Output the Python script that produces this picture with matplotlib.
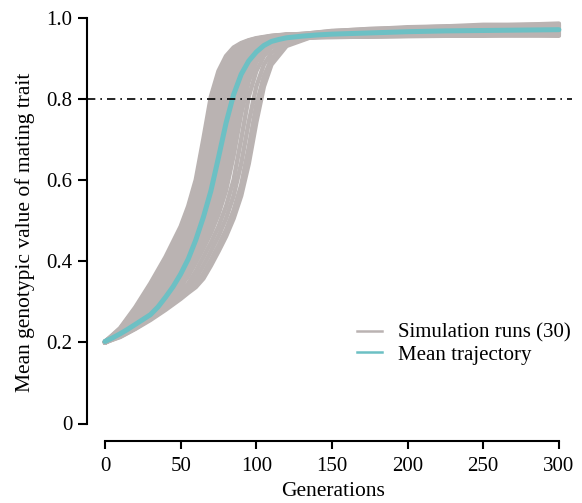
import matplotlib
matplotlib.use("Agg")
import matplotlib.pyplot as plt
from matplotlib.lines import Line2D

plt.rcParams['font.family'] = ['Liberation Serif', 'DejaVu Serif']

# ---------------- data ----------------
generations = [0, 10, 20, 30, 40, 50, 55, 60, 65, 70, 75, 80, 85, 90, 95, 100,
               105, 110, 120, 135, 150, 175, 200, 225, 250, 275, 300]

run_01 = [.201, .235, .286, .345, .410, .485, .535, .600, .700, .805, .868, .905, .926, .937, .944, .949, .952, .955, .958, .959, .963, .969, .971, .975, .975, .978, .979]
run_02 = [.200, .233, .282, .339, .403, .477, .525, .587, .680, .784, .855, .898, .922, .935, .943, .948, .951, .954, .958, .955, .956, .957, .961, .962, .964, .962, .964]
run_03 = [.202, .232, .279, .333, .396, .469, .515, .574, .660, .763, .843, .891, .918, .933, .941, .947, .950, .954, .957, .961, .966, .972, .974, .978, .979, .982, .983]
run_04 = [.199, .231, .276, .328, .389, .461, .505, .561, .640, .742, .830, .884, .913, .930, .940, .946, .950, .953, .957, .954, .953, .954, .956, .957, .958, .957, .958]
run_05 = [.200, .230, .273, .323, .382, .453, .495, .548, .620, .721, .818, .876, .909, .928, .938, .945, .949, .952, .957, .956, .961, .964, .967, .970, .970, .972, .973]
run_06 = [.201, .228, .270, .319, .375, .445, .485, .535, .600, .700, .805, .868, .905, .926, .937, .944, .949, .952, .957, .955, .958, .961, .964, .966, .966, .968, .968]
run_07 = [.200, .228, .269, .317, .372, .442, .481, .530, .594, .690, .795, .862, .902, .924, .936, .944, .948, .951, .956, .959, .965, .969, .973, .975, .977, .978, .981]
run_08 = [.199, .227, .268, .314, .369, .438, .477, .525, .587, .680, .784, .855, .898, .922, .935, .943, .948, .951, .956, .953, .954, .956, .959, .960, .960, .961, .961]
run_09 = [.202, .226, .265, .310, .363, .431, .469, .515, .574, .660, .763, .843, .891, .918, .933, .941, .947, .951, .956, .957, .962, .966, .970, .971, .974, .974, .976]
run_10 = [.200, .226, .264, .308, .360, .428, .465, .510, .568, .650, .752, .836, .888, .916, .932, .940, .946, .950, .956, .953, .957, .959, .961, .964, .964, .965, .966]
run_11 = [.201, .226, .263, .307, .357, .424, .461, .505, .561, .640, .742, .830, .884, .913, .930, .940, .946, .950, .956, .961, .967, .971, .976, .978, .982, .982, .985]
run_12 = [.200, .226, .262, .305, .354, .420, .457, .500, .554, .630, .731, .824, .880, .911, .929, .939, .945, .949, .955, .952, .952, .953, .955, .956, .957, .956, .957]
run_13 = [.199, .225, .261, .303, .351, .417, .453, .495, .548, .620, .721, .818, .876, .909, .928, .938, .945, .949, .955, .956, .960, .963, .966, .968, .970, .970, .972]
run_14 = [.201, .224, .259, .300, .345, .410, .445, .485, .535, .600, .700, .805, .868, .905, .926, .937, .944, .949, .955, .958, .963, .968, .970, .973, .975, .976, .977]
run_15 = [.200, .224, .258, .298, .342, .406, .441, .481, .530, .593, .690, .794, .862, .901, .924, .936, .944, .948, .955, .952, .955, .957, .960, .961, .961, .962, .963]
run_16 = [.202, .223, .257, .297, .340, .403, .438, .477, .525, .587, .680, .784, .855, .898, .922, .935, .943, .948, .954, .960, .965, .970, .974, .976, .979, .980, .982]
run_17 = [.200, .222, .255, .294, .336, .396, .431, .469, .515, .574, .660, .763, .843, .891, .918, .933, .941, .947, .954, .954, .957, .960, .963, .965, .965, .967, .967]
run_18 = [.199, .222, .254, .292, .334, .392, .428, .465, .510, .568, .650, .752, .836, .888, .916, .932, .940, .946, .953, .957, .961, .965, .968, .971, .972, .973, .975]
run_19 = [.201, .222, .254, .291, .332, .389, .424, .461, .505, .561, .640, .742, .830, .884, .913, .930, .940, .946, .953, .951, .953, .955, .957, .959, .959, .959, .960]
run_20 = [.200, .221, .252, .288, .328, .382, .417, .453, .495, .548, .620, .721, .818, .876, .909, .928, .938, .945, .952, .955, .959, .962, .965, .967, .968, .969, .970]
run_21 = [.202, .221, .251, .286, .324, .375, .410, .445, .485, .535, .600, .700, .805, .868, .905, .926, .937, .944, .952, .958, .964, .968, .972, .974, .976, .977, .979]
run_22 = [.200, .220, .249, .283, .321, .369, .403, .438, .477, .525, .587, .680, .784, .855, .898, .922, .935, .943, .951, .951, .952, .953, .954, .955, .955, .956, .955]
run_23 = [.199, .219, .248, .281, .318, .363, .396, .431, .469, .515, .574, .660, .763, .843, .891, .918, .933, .941, .950, .957, .962, .966, .969, .971, .973, .974, .975]
run_24 = [.201, .219, .246, .279, .314, .357, .389, .424, .461, .505, .561, .640, .742, .830, .884, .913, .930, .940, .950, .952, .955, .957, .960, .962, .962, .963, .963]
run_25 = [.200, .218, .244, .275, .308, .345, .375, .410, .445, .485, .535, .600, .700, .805, .868, .905, .926, .937, .949, .956, .960, .964, .967, .969, .970, .971, .972]
run_26 = [.202, .217, .242, .271, .303, .338, .363, .396, .431, .469, .515, .574, .660, .763, .843, .891, .918, .933, .947, .953, .957, .959, .962, .964, .965, .965, .966]
run_27 = [.200, .216, .239, .266, .296, .328, .345, .375, .410, .445, .485, .535, .600, .700, .805, .868, .905, .926, .944, .955, .964, .969, .973, .976, .978, .979, .981]
run_28 = [.199, .215, .236, .262, .289, .320, .335, .357, .389, .424, .461, .505, .561, .640, .742, .830, .884, .913, .940, .951, .954, .955, .958, .959, .960, .960, .960]
run_29 = [.201, .214, .234, .258, .284, .312, .327, .342, .369, .403, .438, .477, .525, .587, .680, .784, .855, .898, .935, .951, .962, .966, .970, .972, .974, .975, .977]
run_30 = [.200, .213, .233, .255, .280, .307, .322, .336, .357, .389, .424, .461, .505, .561, .640, .742, .830, .884, .930, .950, .957, .960, .963, .965, .966, .967, .968]

simulation_runs = [run_01, run_02, run_03, run_04, run_05, run_06, run_07, run_08,
                   run_09, run_10, run_11, run_12, run_13, run_14, run_15, run_16,
                   run_17, run_18, run_19, run_20, run_21, run_22, run_23, run_24,
                   run_25, run_26, run_27, run_28, run_29, run_30]

mean_generations = [0, 5, 10, 15, 20, 25, 30, 35, 40, 45, 50, 55, 60, 65, 70, 75,
                    80, 85, 90, 95, 100, 105, 110, 115, 120, 130, 140, 150, 175,
                    200, 225, 250, 275, 300]
mean_values = [.202, .211, .221, .232, .244, .256, .268, .287, .311, .337, .368,
               .405, .452, .508, .573, .655, .740, .810, .860, .893, .915, .931,
               .941, .946, .950, .954, .957, .959, .962, .965, .967, .968, .969,
               .970]

threshold = 0.8
x_ticks = [0, 50, 100, 150, 200, 250, 300]
y_ticks = [0, 0.2, 0.4, 0.6, 0.8, 1.0]
y_tick_labels = ['0', '0.2', '0.4', '0.6', '0.8', '1.0']

run_label = 'Simulation runs (30)'
mean_label = 'Mean trajectory'
x_label = 'Generations'
y_label = 'Mean genotypic value of mating trait'

# ---------------- style ----------------
GRAY = '#bab3b2'
CYAN = '#6cc0c4'
W, H = 582, 503

# pixel geometry of the reference
AX_L, AX_R, AX_B, AX_T = 86.5, 572, 441, 8
X0_PX, PX_PER_GEN = 105, 1.513
Y0_PX, PX_PER_UNIT = 423.5, 406

fig = plt.figure(figsize=(W / 100, H / 100), dpi=100)
ax = fig.add_axes([AX_L / W, 1 - AX_B / H, (AX_R - AX_L) / W, (AX_B - AX_T) / H])

for run in simulation_runs:
    ax.plot(generations, run, color=GRAY, lw=3.2, solid_capstyle='round',
            solid_joinstyle='round', zorder=2)
ax.plot(mean_generations, mean_values, color=CYAN, lw=3.6,
        solid_capstyle='round', zorder=3)

ax.axhline(threshold, color='black', lw=1.2, dashes=(5, 3, 1, 3), zorder=4)

ax.set_xlim((AX_L - X0_PX) / PX_PER_GEN, (AX_R - X0_PX) / PX_PER_GEN)
ax.set_ylim((Y0_PX - AX_B) / PX_PER_UNIT, (Y0_PX - AX_T) / PX_PER_UNIT)

for s in ['top', 'right']:
    ax.spines[s].set_visible(False)
ax.spines['left'].set_bounds(0, 1)
ax.spines['bottom'].set_bounds(0, 300)
for s in ['left', 'bottom']:
    ax.spines[s].set_linewidth(1.5)

ax.set_xticks(x_ticks)
ax.set_yticks(y_ticks)
ax.set_yticklabels(y_tick_labels)
ax.tick_params(axis='y', direction='out', length=6.5, width=1.5, pad=3.5, labelsize=15)
ax.tick_params(axis='x', direction='out', length=5.8, width=1.5, pad=6, labelsize=15)

fig.text(333 / W, 1 - 492 / H, x_label, ha='center', va='center', fontsize=15.5)
fig.text(25 / W, 1 - 232 / H, y_label, ha='center', va='center', rotation=90,
         fontsize=15.5)

handles = [Line2D([], [], color=GRAY, lw=1.8),
           Line2D([], [], color=CYAN, lw=1.8)]
fig.legend(handles, [run_label, mean_label], loc='center left',
           bbox_to_anchor=(357 / W, 1 - 344 / H), frameon=False, fontsize=15,
           handlelength=1.2, handletextpad=0.75, labelspacing=0.1,
           borderpad=0, borderaxespad=0)

fig.savefig('out.png', dpi=100)
